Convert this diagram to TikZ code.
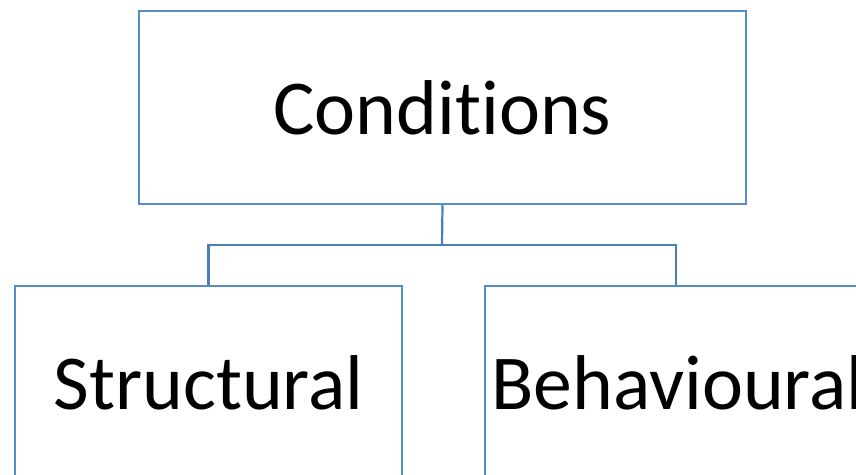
\documentclass[tikz,border=0pt]{standalone}
\usepackage{fontspec}
\setmainfont[Ligatures={NoCommon}]{Carlito}
\definecolor{boxblue}{RGB}{86,140,200}
\definecolor{linkblue}{RGB}{74,126,187}
\begin{document}
\begin{tikzpicture}[x=1bp,y=-1bp,
  box/.style={draw=boxblue,line width=2bp,minimum width=607bp,minimum height=193bp,inner sep=0pt,font=\fontsize{78}{86}\selectfont,text=black},
  lowbox/.style={box,minimum width=387bp},
  link/.style={draw=linkblue,line width=2.2bp}]
\useasboundingbox (0,0) rectangle (856,475);
\clip (0,0) rectangle (856,475);
\node[box] (cond) at (442.5,107.5) {Conditions};
\node[lowbox] (struct) at (208.5,382.5) {Structural};
\node[lowbox] (behav) at (678.5,382.5) {\hspace*{-1bp}Behavioural};
\coordinate (mid) at (442,245);
\draw[link] (cond.south) -- (mid);
\draw[link] (mid) -| (struct.north);
\draw[link] (mid) -| ([xshift=-2.5bp]behav.north);
\end{tikzpicture}
\end{document}
